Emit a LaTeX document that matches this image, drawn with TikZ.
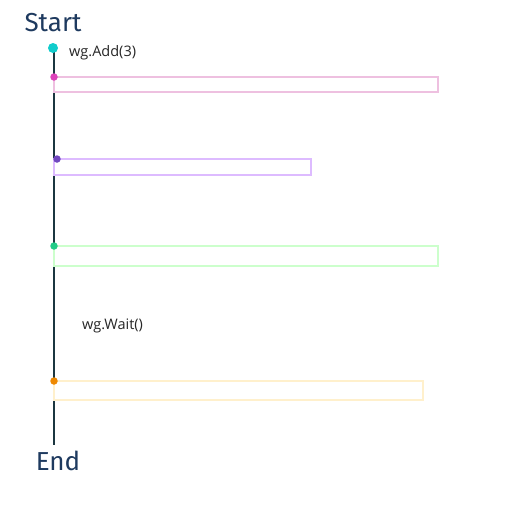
\documentclass[tikz,border=0pt]{standalone}
\usepackage{fontspec}
\setmainfont{Open Sans}
\newfontfamily\handfont{Fira Sans}
\definecolor{navy}{HTML}{1E3A5F}
\definecolor{linec}{HTML}{1B3640}
\definecolor{pinkbox}{HTML}{EEC0E0}
\definecolor{pinkdot}{HTML}{DD44BB}
\definecolor{purbox}{HTML}{DDBBFF}
\definecolor{purdot}{HTML}{7048C0}
\definecolor{grnbox}{HTML}{CCFFCC}
\definecolor{grndot}{HTML}{22CC88}
\definecolor{orgbox}{HTML}{FFF0CC}
\definecolor{orgdot}{HTML}{EE8800}
\definecolor{cyandot}{HTML}{11CCCC}
\begin{document}
\begin{tikzpicture}[x=1pt,y=-1pt,
  lbl/.style={font=\handfont\fontsize{26}{26}\selectfont, text=navy, inner sep=0pt},
  code/.style={font=\fontsize{14.5}{14.5}\selectfont, text=black!85, inner sep=0pt, anchor=west},
  dot/.style={circle, inner sep=0pt, minimum size=7.5pt},
  bar/.style={line width=1.5pt}]
\useasboundingbox (0,0) rectangle (512,512);
\fill[white] (0,0) rectangle (512,512);
\node[lbl] (start) at (53,23) {Start};
\node[lbl] (end) at (58,461) {End};
\coordinate (top) at (54,48);
\coordinate (bot) at (54,445);
\draw[linec, line width=2.8pt] (top) -- (bot);
\draw[bar, pinkbox] (54,77) rectangle (438,92);
\draw[bar, purbox] (54,159) rectangle (311,175);
\draw[bar, grnbox] (54,246) rectangle (438,266);
\draw[bar, orgbox] (54,381) rectangle (423,400);
\node[dot, fill=cyandot, minimum size=10pt] (d0) at (53,48) {};
\node[dot, fill=pinkdot] (d1) at (54,77) {};
\node[dot, fill=purdot] (d2) at (57,159) {};
\node[dot, fill=grndot] (d3) at (54,246) {};
\node[dot, fill=orgdot] (d4) at (54,381) {};
\node[code] (add) at (69,53) {wg.Add(3)};
\node[code] (wait) at (82,326) {wg.Wait()};
\end{tikzpicture}
\end{document}
